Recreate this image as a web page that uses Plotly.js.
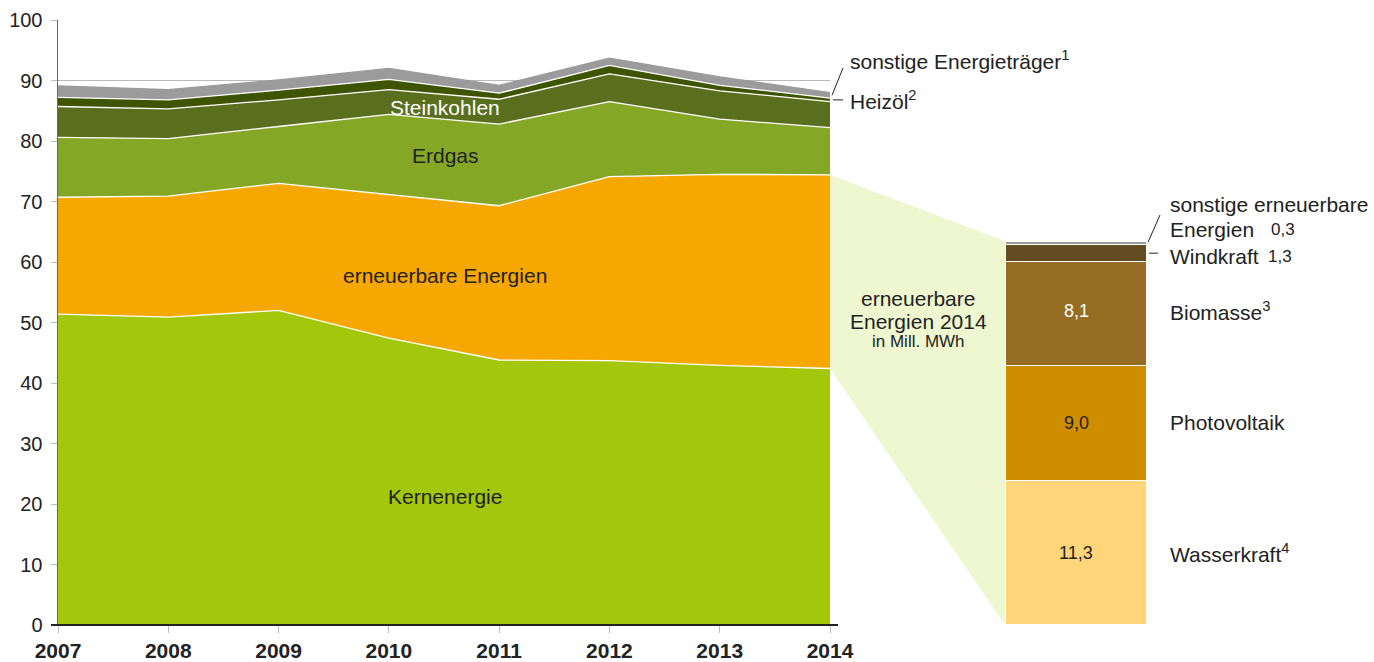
<!DOCTYPE html>
<html><head><meta charset="utf-8">
<script src="https://cdn.plot.ly/plotly-3.0.1.min.js"></script>
<style>html,body{margin:0;padding:0;background:#fff;} #chart{width:1374px;height:662px;}</style>
</head><body><div id="chart"></div>
<script>
// ---- data ----
const years = [2007, 2008, 2009, 2010, 2011, 2012, 2013, 2014];
const kernenergie = [51.4, 50.9, 52.0, 47.4, 43.8, 43.7, 42.9, 42.4];
const erneuerbare = [19.3, 20.0, 21.0, 23.8, 25.5, 30.4, 31.6, 32.0];
const erdgas      = [9.9, 9.5, 9.4, 13.2, 13.5, 12.4, 9.1, 7.8];
const steinkohlen = [5.1, 4.9, 4.4, 4.1, 4.1, 4.6, 4.7, 4.3];
const heizoel     = [1.5, 1.5, 1.6, 1.7, 1.0, 1.4, 0.9, 0.6];
const sonstige    = [1.9, 1.7, 1.7, 1.8, 1.3, 1.2, 1.4, 0.9];

const renewCats   = ['Wasserkraft', 'Photovoltaik', 'Biomasse', 'Windkraft', 'sonstige erneuerbare Energien'];
const renew2014   = [11.3, 9.0, 8.1, 1.3, 0.3];
const renewText   = ['11,3', '9,0', '8,1', '1,3', '0,3'];
const yTicks      = [0, 10, 20, 30, 40, 50, 60, 70, 80, 90, 100];

// ---- geometry / styles ----
const W = 1374, H = 662;
const PL = 58, PR = 830, PT = 20, PB = 625;
const BL = 1005, BR = 1147;
const FONT = 'Liberation Sans, Arial, Helvetica, sans-serif';
const TXT = '#222';
const FS = 21;
const px = p => p / W;
const py = p => 1 - p / H;
const yMax = 100;
const y2Max = (PB - PT) / 12.8;
const xdom = [px(PL), px(PR)], ydom = [py(PB), py(PT)], x2dom = [px(BL), px(BR)];
const xP = yr => xdom[0] + (yr - years[0]) / (years[years.length - 1] - years[0]) * (xdom[1] - xdom[0]);
const yP = v => ydom[0] + v / yMax * (ydom[1] - ydom[0]);
const y2P = v => ydom[0] + v / y2Max * (ydom[1] - ydom[0]);

const areaSeries = [
  {name: 'Kernenergie', y: kernenergie, fill: '#a3c70b', line: '#ffffff'},
  {name: 'erneuerbare Energien', y: erneuerbare, fill: '#f7a800', line: '#ffffff'},
  {name: 'Erdgas', y: erdgas, fill: '#84a825', line: '#ffffff'},
  {name: 'Steinkohlen', y: steinkohlen, fill: '#5a6f1e', line: '#ffffff'},
  {name: 'Heizöl', y: heizoel, fill: '#3e5400', line: '#ffffff'},
  {name: 'sonstige Energieträger', y: sonstige, fill: '#9b9b9b', line: '#9b9b9b'}
];
const barColors = ['#ffd57a', '#cf8e00', '#956d23', '#634c22', '#9b9b9b'];

const traces = areaSeries.map(s => ({
  type: 'scatter', mode: 'lines', x: years, y: s.y, name: s.name,
  stackgroup: 'one', fillcolor: s.fill, line: {color: s.line, width: 1.3},
  hoverinfo: 'skip', xaxis: 'x', yaxis: 'y'
}));
renewCats.forEach((c, i) => {
  traces.push({
    type: 'bar', x: [0], y: [renew2014[i]], name: c, width: 1,
    marker: {color: barColors[i], line: {color: '#ffffff', width: 1.2}},
    xaxis: 'x2', yaxis: 'y2', hoverinfo: 'skip'
  });
});

// cumulative helpers
const last = years.length - 1;
const cumAt = (arrs, i) => arrs.reduce((a, arr) => a + arr[i], 0);
const ernTop14 = cumAt([kernenergie, erneuerbare], last);
const kernTop14 = kernenergie[last];
const renewTotal = renew2014.reduce((a, b) => a + b, 0);
const sonstMid14 = cumAt([kernenergie, erneuerbare, erdgas, steinkohlen, heizoel], last) + sonstige[last] / 2;
const heizMid14 = cumAt([kernenergie, erneuerbare, erdgas, steinkohlen], last) + heizoel[last] / 2;
const barCum = []; renew2014.reduce((a, v, i) => { barCum[i] = a + v / 2; return a + v; }, 0);
const barTop = renewTotal;

const shapes = [
  {type: 'path', xref: 'paper', yref: 'paper', layer: 'below', line: {width: 0}, fillcolor: '#eef7d0',
   path: `M ${xP(2014)} ${yP(ernTop14)} L ${x2dom[0]} ${y2P(barTop)} L ${x2dom[0]} ${y2P(0)} L ${xP(2014)} ${yP(kernTop14)} Z`},
  {type: 'line', xref: 'paper', yref: 'paper', x0: px(51), x1: px(838), y0: yP(0), y1: yP(0), line: {color: '#222', width: 2}},
  {type: 'line', xref: 'paper', yref: 'paper', x0: xP(2014) + px(2), y0: yP(sonstMid14), x1: px(843), y1: py(68), line: {color: '#222', width: 1}},
  {type: 'line', xref: 'paper', yref: 'paper', x0: xP(2014) + px(3), y0: yP(heizMid14), x1: px(843), y1: yP(heizMid14), line: {color: '#222', width: 1}},
  {type: 'line', xref: 'paper', yref: 'paper', x0: x2dom[1] + px(1), y0: y2P(barTop - 0.1), x1: px(1160), y1: py(215), line: {color: '#222', width: 1}},
  {type: 'line', xref: 'paper', yref: 'paper', x0: x2dom[1] + px(2), y0: y2P(barCum[3]), x1: px(1158), y1: y2P(barCum[3]), line: {color: '#222', width: 1}}
];

const ann = (o) => Object.assign({showarrow: false, xanchor: 'center', yanchor: 'middle', font: {family: FONT, size: FS, color: TXT}}, o);
const small = {family: FONT, size: 17, color: TXT};
const annotations = [
  ann({xref: 'x', yref: 'y', x: 2010.51, y: 85.6, text: 'Steinkohlen', font: {family: FONT, size: FS, color: '#ffffff'}}),
  ann({xref: 'x', yref: 'y', x: 2010.51, y: 77.6, text: 'Erdgas'}),
  ann({xref: 'x', yref: 'y', x: 2010.51, y: 57.8, text: 'erneuerbare Energien'}),
  ann({xref: 'x', yref: 'y', x: 2010.51, y: 21.3, text: 'Kernenergie'}),
  ann({xref: 'paper', yref: 'paper', x: px(848), y: py(60), xanchor: 'left', text: 'sonstige Energieträger<sup>1</sup>'}),
  ann({xref: 'paper', yref: 'paper', x: px(848), y: py(100), xanchor: 'left', text: 'Heizöl<sup>2</sup>'}),
  ann({xref: 'paper', yref: 'paper', x: px(918), y: py(298), text: 'erneuerbare'}),
  ann({xref: 'paper', yref: 'paper', x: px(918), y: py(321), text: 'Energien 2014'}),
  ann({xref: 'paper', yref: 'paper', x: px(918), y: py(341), text: 'in Mill. MWh', font: small}),
  ann({xref: 'paper', yref: 'paper', x: px(1168), y: py(204), xanchor: 'left', text: 'sonstige erneuerbare'}),
  ann({xref: 'paper', yref: 'paper', x: px(1168), y: py(229), xanchor: 'left', text: 'Energien'}),
  ann({xref: 'paper', yref: 'paper', x: px(1269), y: py(229), xanchor: 'left', text: renewText[4], font: small}),
  ann({xref: 'paper', yref: 'y2', x: px(1168), y: barCum[3], yshift: -3, xanchor: 'left', text: 'Windkraft'}),
  ann({xref: 'paper', yref: 'y2', x: px(1266), y: barCum[3], yshift: -3, xanchor: 'left', text: renewText[3], font: small}),
  ann({xref: 'paper', yref: 'y2', x: px(1168), y: barCum[2] + 0.2, xanchor: 'left', text: 'Biomasse<sup>3</sup>'}),
  ann({xref: 'paper', yref: 'y2', x: px(1168), y: barCum[1], xanchor: 'left', text: 'Photovoltaik'}),
  ann({xref: 'paper', yref: 'y2', x: px(1168), y: barCum[0], xanchor: 'left', text: 'Wasserkraft<sup>4</sup>'}),
  ann({xref: 'x2', yref: 'y2', x: 0, y: barCum[2] + 0.2, text: renewText[2], font: {family: FONT, size: 18, color: '#ffffff'}}),
  ann({xref: 'x2', yref: 'y2', x: 0, y: barCum[1], text: renewText[1], font: {family: FONT, size: 18, color: TXT}}),
  ann({xref: 'x2', yref: 'y2', x: 0, y: barCum[0], text: renewText[0], font: {family: FONT, size: 18, color: TXT}})
];

const layout = {
  width: W, height: H, margin: {l: 0, r: 0, t: 0, b: 0},
  paper_bgcolor: '#ffffff', plot_bgcolor: 'rgba(0,0,0,0)',
  showlegend: false, barmode: 'stack', bargap: 0,
  font: {family: FONT, color: TXT},
  xaxis: {
    domain: xdom, range: [years[0], years[last]], tickvals: years, ticktext: years.map(y => '<b>' + y + '</b>'),
    ticks: 'outside', ticklen: 7, tickcolor: '#bbbbbb', tickwidth: 1,
    showgrid: false, zeroline: false, showline: false, fixedrange: true,
    tickfont: {family: FONT, size: 21, color: TXT}, ticklabelstandoff: 0, anchor: 'y'
  },
  yaxis: {
    domain: ydom, range: [0, yMax], tickvals: yTicks,
    ticks: 'outside', ticklen: 6, tickcolor: '#bbbbbb', tickwidth: 1,
    showgrid: true, gridcolor: '#b9b9b9', gridwidth: 1, zeroline: false,
    showline: true, linecolor: '#666666', linewidth: 1.5, fixedrange: true,
    tickfont: {family: FONT, size: 20, color: TXT}, ticklabelstandoff: 4, anchor: 'x'
  },
  xaxis2: {domain: x2dom, range: [-0.5, 0.5], visible: false, anchor: 'y2', fixedrange: true},
  yaxis2: {domain: ydom, range: [0, y2Max], visible: false, anchor: 'x2', fixedrange: true},
  shapes: shapes, annotations: annotations
};

Plotly.newPlot('chart', traces, layout, {displayModeBar: false, staticPlot: true});
</script>
</body></html>
